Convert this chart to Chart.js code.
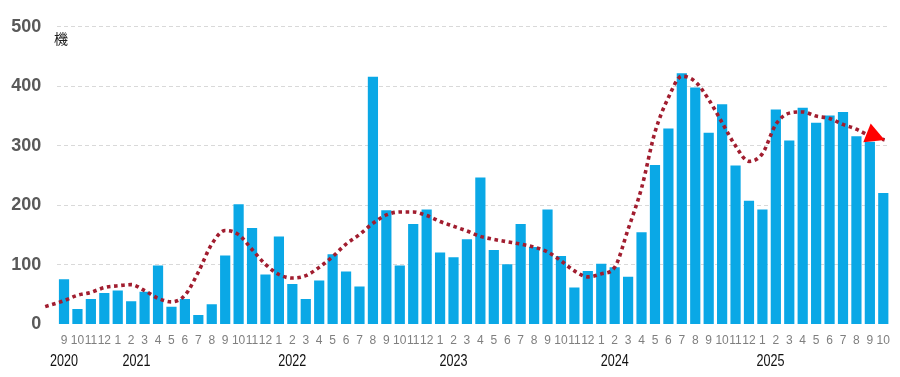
<!DOCTYPE html>
<html>
<head>
<meta charset="utf-8">
<script src="https://cdn.jsdelivr.net/npm/chart.js@4/dist/chart.umd.min.js"></script>
<style>
html,body{margin:0;padding:0;background:#fff;}
#wrap{width:900px;height:377px;position:relative;}
</style>
</head>
<body>
<div id="wrap"><canvas id="c"></canvas></div>
<script>
// Month tick labels (2020-09 .. 2025-10)
const months = [
  '9','10','11','12',
  '1','2','3','4','5','6','7','8','9','10','11','12',
  '1','2','3','4','5','6','7','8','9','10','11','12',
  '1','2','3','4','5','6','7','8','9','10','11','12',
  '1','2','3','4','5','6','7','8','9','10','11','12',
  '1','2','3','4','5','6','7','8','9','10'
];
// Year labels and the month index each sits under
const years = ['2020', '2021', '2022', '2023', '2024', '2025'];
const yearAt = [0, 5.4, 17, 29, 41, 52.6];

// Monthly values (機)
const units = [
  76, 26, 43, 53,
  57, 39, 55, 99, 30, 43, 16, 34, 116, 202, 162, 84,
  148, 68, 43, 74, 118, 89, 64, 416, 192, 99, 169, 193,
  121, 113, 143, 247, 125, 101, 169, 130, 193, 115, 62, 90,
  102, 96, 80, 155, 268, 329, 422, 398, 322, 370, 267, 208,
  193, 361, 309, 364, 339, 351, 357, 316, 307, 221
];

// Trend curve (x in month index, y in 機)
const trendX = [-1.4, 0,1,2,3,4,5,6,7,8,9,10,11,12,13,14,15,16,17,18,19,20,21,22,23,24,25,26,27,28,29,
  30,31,32,33,34,35,36,37,38,39,40,41,42,43,44,45,46,47,48,49,50,51,52,53,54,55,56,57,58,59,60, 61.1];
const trendY = [30, 40,49,54,62,65,67,57,44,38,49,88,135,158,151,126,101,84,78,82,96,114,135,151,170,184,189,
  189,183,173,165,157,148,143,139,135,130,122,107,90,80,85,96,160,229,323,381,417,408,378,339,300,274,
  287,336,355,357,350,346,336,328,317, 310];

const yTicks = [0, 100, 200, 300, 400, 500];

const trendData = trendX.map((x, i) => ({x: x, y: trendY[i]}));

const extrasPlugin = {
  id: 'extras',
  afterDatasetsDraw(chart) {
    const ctx = chart.ctx;
    const meta = chart.getDatasetMeta(1);
    const pts = meta.data;
    const p1 = pts[pts.length - 1];
    const p0 = pts[pts.length - 2];
    let ang = Math.atan2(p1.y - p0.y, p1.x - p0.x) + 6 * Math.PI / 180;
    const dx = Math.cos(ang), dy = Math.sin(ang);
    const L = 19, W = 10;
    const bx = p1.x - dx * L, by = p1.y - dy * L;
    ctx.save();
    ctx.fillStyle = '#ff0000';
    ctx.beginPath();
    ctx.moveTo(p1.x, p1.y);
    ctx.lineTo(bx - dy * W, by + dx * W);
    ctx.lineTo(bx + dy * W, by - dx * W);
    ctx.closePath();
    ctx.fill();
    ctx.restore();
  },
  afterDraw(chart) {
    const ctx = chart.ctx;
    ctx.save();
    ctx.fillStyle = '#222';
    ctx.font = '14px "Noto Sans CJK JP", sans-serif';
    ctx.textBaseline = 'middle';
    ctx.textAlign = 'left';
    ctx.fillText('機', 54, 39);
    ctx.restore();
    const xs = chart.scales.x2;
    years.forEach((t, i) => {
      const px = xs.getPixelForValue(yearAt[i]);
      ctx.save();
      ctx.translate(px, 361);
      ctx.scale(0.74, 1);
      ctx.fillStyle = '#111';
      ctx.font = '17px "Liberation Sans", Arial, sans-serif';
      ctx.textAlign = 'center';
      ctx.textBaseline = 'middle';
      ctx.fillText(t, 0, 0);
      ctx.restore();
    });
  }
};

new Chart(document.getElementById('c'), {
  type: 'bar',
  data: {
    labels: months,
    datasets: [
      {
        type: 'bar',
        data: units,
        backgroundColor: '#0aa8e6',
        barPercentage: 0.76,
        categoryPercentage: 1.0,
        grouped: false,
        xAxisID: 'x',
        yAxisID: 'y',
        order: 2
      },
      {
        type: 'line',
        data: trendData,
        xAxisID: 'x2',
        yAxisID: 'y',
        borderColor: '#a11d2f',
        borderWidth: 3.6,
        borderDash: [3.6, 3.6],
        borderCapStyle: 'butt',
        pointRadius: 0,
        fill: false,
        cubicInterpolationMode: 'monotone',
        clip: false,
        order: 1
      }
    ]
  },
  options: {
    responsive: true,
    maintainAspectRatio: false,
    animation: false,
    layout: { padding: { top: 23, right: 10, left: 0, bottom: 0 } },
    plugins: { legend: { display: false }, tooltip: { enabled: false } },
    scales: {
      x: {
        type: 'category',
        position: 'bottom',
        offset: true,
        grid: { display: false, drawTicks: false },
        border: { display: false },
        ticks: {
          autoSkip: false, maxRotation: 0, minRotation: 0, padding: 9,
          color: '#7f7f7f',
          font: { family: '"Liberation Sans", Arial, sans-serif', size: 12 }
        },
        afterFit(s) { s.height = 52.5; }
      },
      x2: {
        type: 'linear',
        display: false,
        offset: false,
        min: -0.5,
        max: 61.5
      },
      y: {
        min: 0,
        max: 500,
        afterBuildTicks(s) { s.ticks = yTicks.map(v => ({ value: v })); },
        grid: {
          drawTicks: false,
          color: (c) => c.tick && c.tick.value === 0 ? 'rgba(0,0,0,0)' : '#d9d9d9',
          lineWidth: 1
        },
        border: { display: false, dash: [4, 3] },
        ticks: {
          padding: 16,
          color: '#595959',
          font: { family: '"Liberation Sans", Arial, sans-serif', size: 18, weight: 'bold' }
        },
        afterFit(s) { s.width = 57.3; }
      }
    }
  },
  plugins: [extrasPlugin]
});
</script>
</body>
</html>
